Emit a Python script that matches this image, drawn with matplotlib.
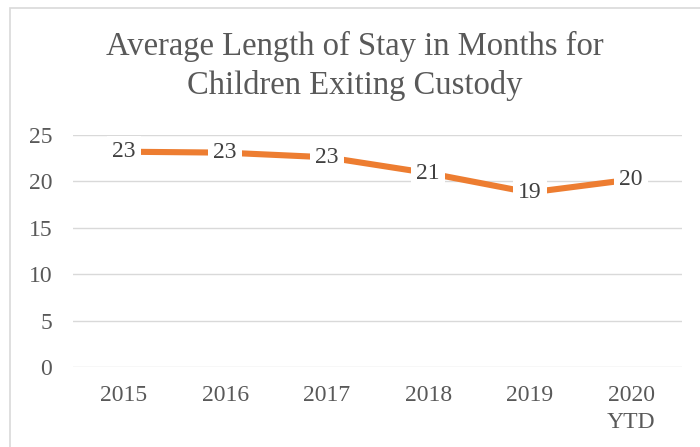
import matplotlib
matplotlib.use("Agg")
import matplotlib.pyplot as plt
from matplotlib.patches import Rectangle

# data
categories = ["2015", "2016", "2017", "2018", "2019", "2020\nYTD"]
avg_stay = [23.2, 23.1, 22.6, 20.9, 18.8, 20.2]
y_ticks = [0, 5, 10, 15, 20, 25]
title = "Average Length of Stay in Months for\nChildren Exiting Custody"

plt.rcParams["font.family"] = ["Liberation Serif", "DejaVu Serif"]

fig = plt.figure(figsize=(7, 4.47), dpi=100)
ax = fig.add_axes([73 / 700, 1 - 367 / 447, 609 / 700, 232 / 447])

# light frame round the chart (only left and top edges show)
fig.patches.append(Rectangle((10 / 700, -0.5), 2, 1.5 - 8 / 447, transform=fig.transFigure,
                             fill=False, edgecolor="#d9d9d9", linewidth=1.2))

x = range(len(categories))
ax.plot(x, avg_stay, color="#ed7d31", linewidth=4.4, solid_capstyle="butt", zorder=3)

for xi, v in zip(x, avg_stay):
    ax.text(xi, v, f"{v:.0f}", ha="center", va="center", fontsize=17, color="#404040",
            bbox=dict(boxstyle="square,pad=0.22", facecolor="white", edgecolor="none"), zorder=4)

ax.set_xlim(-0.5, len(categories) - 0.5)
ax.set_ylim(0, 25)
ax.set_yticks(y_ticks)
ax.set_xticks(list(x))
ax.set_xticklabels(categories, linespacing=1.4)
ax.grid(axis="y", color="#d9d9d9", linewidth=1.0)
ax.set_axisbelow(True)
for s in ax.spines.values():
    s.set_visible(False)
ax.tick_params(axis="both", length=0, labelsize=17, labelcolor="#595959")
ax.tick_params(axis="y", pad=15)
ax.tick_params(axis="x", pad=13)

fig.text(355 / 700, 1 - 66 / 447, title, ha="center", va="center", fontsize=23.5, color="#595959",
         linespacing=1.3)

fig.savefig("out.png", dpi=100)
